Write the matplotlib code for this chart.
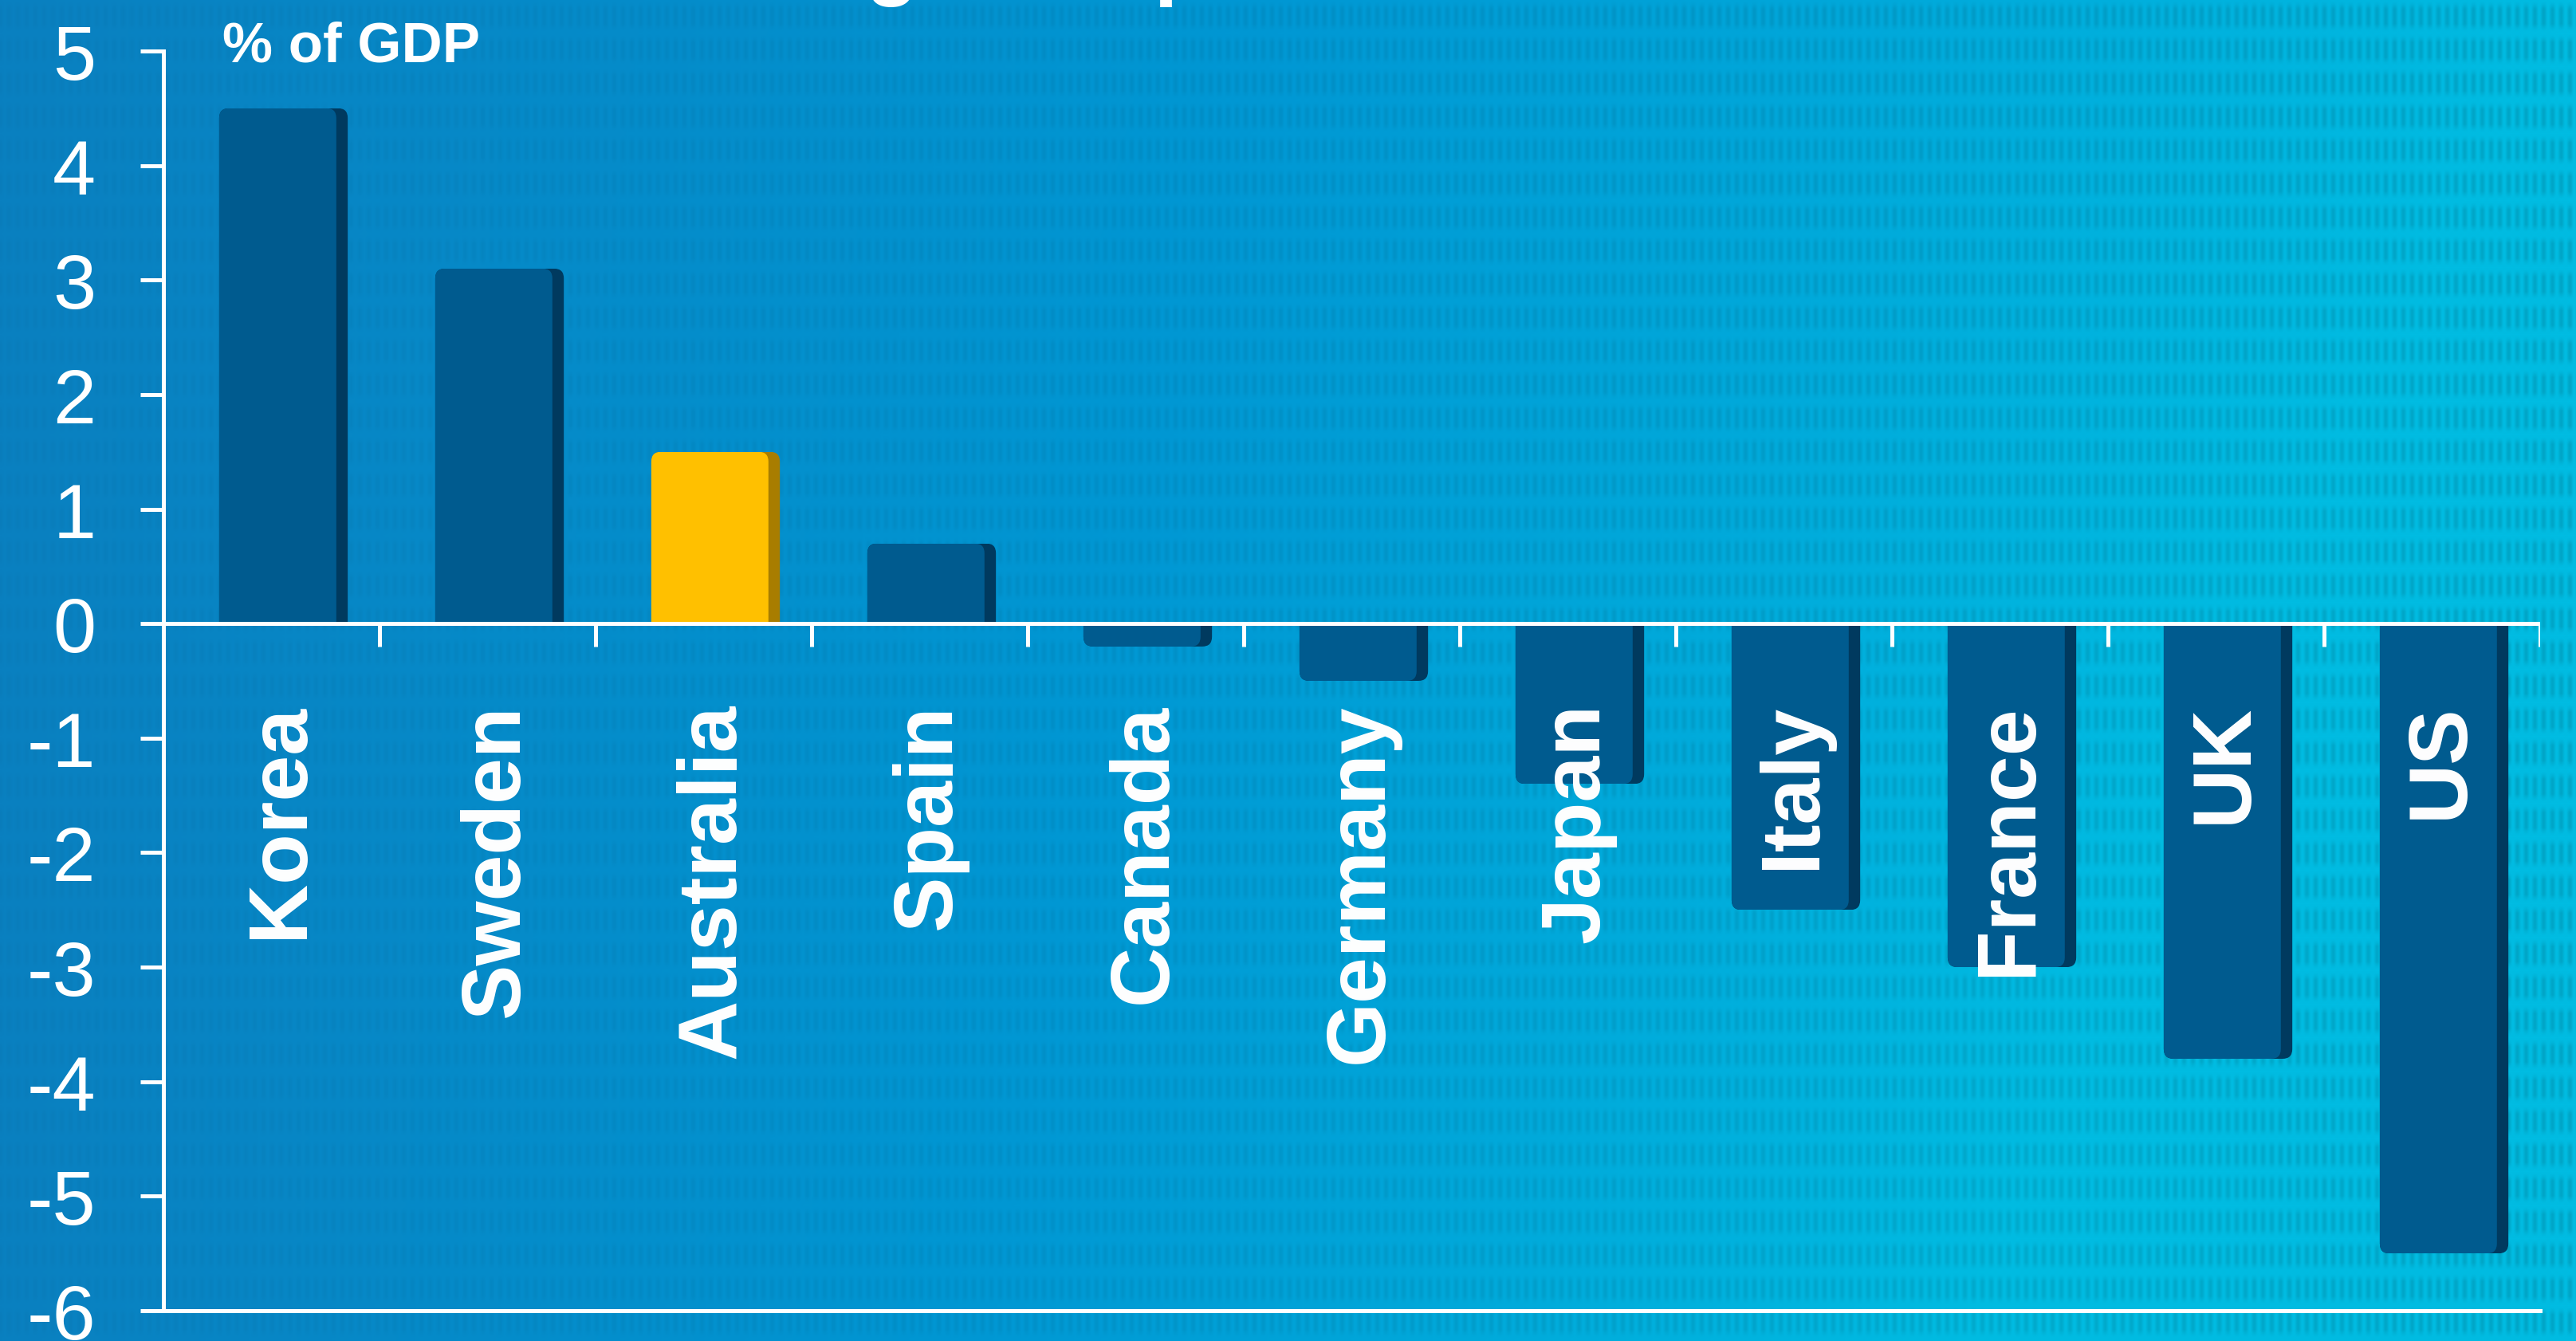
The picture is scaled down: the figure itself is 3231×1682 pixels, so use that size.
import matplotlib.pyplot as plt
import numpy as np
from matplotlib.patches import FancyBboxPatch, Rectangle

countries = ['Korea', 'Sweden', 'Australia', 'Spain', 'Canada', 'Germany',
             'Japan', 'Italy', 'France', 'UK', 'US']
balance = [4.5, 3.1, 1.5, 0.7, -0.2, -0.5, -1.4, -2.5, -3.0, -3.8, -5.5]
highlight = 'Australia'
yticks = list(range(-6, 6))

W, H = 3231, 1683
plt.rcParams['font.family'] = ['Liberation Sans', 'DejaVu Sans']

fig = plt.figure(figsize=(W / 100, H / 100), dpi=100)

# background: blue-to-cyan gradient with a woven dash texture
bg = fig.add_axes([0, 0, 1, 1])
xx = np.linspace(0, 1, W)[None, :]
yy = np.linspace(0, 1, H)[:, None]
left = np.array([10, 128, 192]) / 255
mid = np.array([0, 152, 212]) / 255
right = np.array([0, 188, 226]) / 255
t = np.clip(xx + 0.3 * yy * xx, 0, 1)[..., None]
img = np.where(t < 0.5, left + (mid - left) * (t / 0.5), mid + (right - mid) * ((t - 0.5) / 0.5))
px = np.arange(W)[None, :]
py = np.arange(H)[:, None]
cols = 0.5 + 0.5 * np.cos(2 * np.pi * px / 11)
rows = np.clip(1.7 * (0.5 - 0.5 * np.cos(2 * np.pi * py / 42)), 0, 1)
strength = 0.2 + 0.8 * np.linspace(0, 1, W)[None, :] ** 1.3
img = img * (1 - 0.12 * (cols * rows * strength))[..., None]
bg.imshow(np.clip(img, 0, 1), aspect='auto', extent=(0, 1, 0, 1), interpolation='bilinear')
bg.axis('off')

ax = fig.add_axes([205 / W, 1 - 1645 / H, (3186 - 205) / W, 1580 / H])
ax.set_facecolor('none')
ax.set_xlim(0, len(countries))
ax.set_ylim(-6, 5)

# bars with a dark side face and rounded outer end
asp = (1 / 143.6) / (1 / 270.9)
rad = 0.045
for i, (name, v) in enumerate(zip(countries, balance)):
    if name == highlight:
        face, side = '#FFC000', '#A87D00'
    else:
        face, side = '#005B8F', '#003A5F'
    x = i + 0.5
    x0, xf, x1 = x - 0.242, x + 0.30, x + 0.353
    if v >= 0:
        y0, h = -0.3, v + 0.3
    else:
        y0, h = v, -v + 0.3
    clip = Rectangle((x0 - 0.1, min(0, v)), x1 - x0 + 0.2, abs(v), transform=ax.transData)
    for l, r, c in [(x0, x1, side), (x0, xf, face)]:
        p = FancyBboxPatch((l, y0), r - l, h, boxstyle=f'round,pad=0,rounding_size={rad}',
                           mutation_aspect=asp, fc=c, ec='none', zorder=2)
        ax.add_patch(p)
        p.set_clip_path(clip)

    ax.text(x + 0.142, -0.69, name, rotation=90, rotation_mode='anchor',
            ha='right', va='baseline', color='white', fontsize=75,
            fontweight='bold', zorder=5)

# axes lines
lw = 3.6
ax.axhline(0, color='white', lw=lw, zorder=4)
ax.axhline(-6, color='white', lw=lw, zorder=4, clip_on=False)
ax.vlines(range(1, len(countries) + 1), -0.2, 0, color='white', lw=lw, zorder=4)
for s in ['top', 'right', 'bottom']:
    ax.spines[s].set_visible(False)
ax.spines['left'].set_color('white')
ax.spines['left'].set_linewidth(lw)
ax.set_xticks([])
ax.set_yticks(yticks)
ax.set_yticklabels([str(v) for v in yticks])
ax.tick_params(axis='y', length=21, width=lw, pad=40, colors='white', labelsize=70)

fig.text(279 / W, 1 - 78 / H, '% of GDP', color='white', fontsize=51,
         fontweight='bold', va='baseline')
fig.text(875 / W, 1 + 13 / H, 'Budget surplus', color='white', fontsize=78,
         fontweight='bold', va='baseline')

fig.savefig('out.png', dpi=100)
